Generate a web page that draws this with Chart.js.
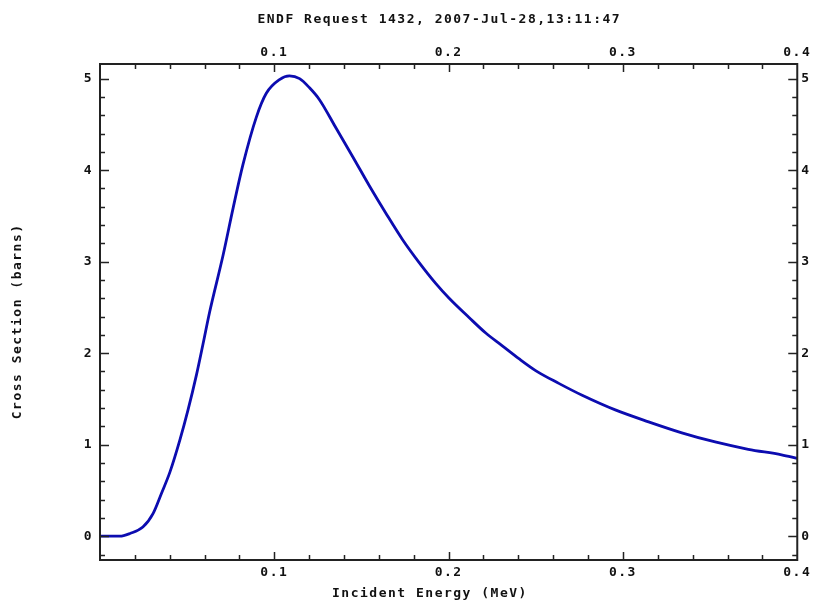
<!DOCTYPE html>
<html>
<head>
<meta charset="utf-8">
<script src="https://cdn.jsdelivr.net/npm/chart.js@4/dist/chart.umd.min.js"></script>
<style>
  html, body { margin: 0; padding: 0; background: #fff; }
</style>
</head>
<body>
<canvas id="xs" width="814" height="601"></canvas>
<script>
// values (MeV, barns)
const energy = [
  0.0, 0.0114, 0.0172, 0.0246, 0.0305, 0.0353, 0.0401, 0.0458, 0.0505, 0.0553,
  0.0591, 0.0629, 0.0706, 0.0763, 0.0820, 0.0897, 0.0954, 0.1030, 0.1087, 0.1145,
  0.1202, 0.1259, 0.1354, 0.1449, 0.1545, 0.1640, 0.1736, 0.1831, 0.1927, 0.2003,
  0.2117, 0.2213, 0.2308, 0.2403, 0.2499, 0.2632, 0.2766, 0.2956, 0.3147, 0.3338,
  0.3529, 0.3719, 0.3910, 0.4000
];
const crossSection = [
  0.0, 0.0, 0.03, 0.10, 0.25, 0.47, 0.70, 1.05, 1.38, 1.76,
  2.10, 2.45, 3.07, 3.58, 4.06, 4.58, 4.84, 4.99, 5.03, 5.00,
  4.90, 4.77, 4.46, 4.15, 3.83, 3.53, 3.24, 2.99, 2.76, 2.60,
  2.39, 2.22, 2.08, 1.94, 1.81, 1.67, 1.54, 1.38, 1.25, 1.13,
  1.03, 0.95, 0.89, 0.85
];
const xTicks = [0.1, 0.2, 0.3, 0.4];
const yTicks = [0, 1, 2, 3, 4, 5];

// trailing spaces nudge the centred titles to where the original has them
const titleText = "ENDF Request 1432, 2007-Jul-28,13:11:47  ";
const xTitle = "Incident Energy (MeV)    ";
const yTitle = "Cross Section (barns)  ";

Chart.defaults.font.family = "'DejaVu Sans Mono', monospace";
Chart.defaults.font.size = 13;
Chart.defaults.font.weight = "bold";
Chart.defaults.color = "#111";

const points = energy.map((e, i) => ({ x: e, y: crossSection[i] }));

const setTicks = (list) => (scale) => {
  scale.ticks = list.map((v) => ({ value: v }));
};

const noGrid = { display: false, drawTicks: false };

// box with inward major/minor ticks like the original plot
const frame = {
  id: "frame",
  beforeDraw(chart) {
    chart.ctx.letterSpacing = "1.5px";
  },
  afterDatasetsDraw(chart) {
    const { ctx, chartArea: a, scales } = chart;
    ctx.save();
    ctx.strokeStyle = "#222";
    ctx.lineWidth = 2;
    ctx.strokeRect(a.left, a.top, a.right - a.left, a.bottom - a.top);
    ctx.lineWidth = 1.5;
    ctx.beginPath();
    for (let i = 1; i < 20; i++) {
      const px = Math.round(scales.x.getPixelForValue(i * 0.02)) + 0.5;
      const len = i % 5 === 0 ? 8 : 5;
      ctx.moveTo(px, a.bottom);
      ctx.lineTo(px, a.bottom - len);
      ctx.moveTo(px, a.top);
      ctx.lineTo(px, a.top + len);
    }
    for (let i = -1; i <= 25; i++) {
      const py = Math.round(scales.y.getPixelForValue(i * 0.2)) + 0.5;
      const len = i % 5 === 0 ? 9 : 5;
      ctx.moveTo(a.left, py);
      ctx.lineTo(a.left + len, py);
      ctx.moveTo(a.right, py);
      ctx.lineTo(a.right - len, py);
    }
    ctx.stroke();
    ctx.restore();
  },
};

const config = {
  type: "line",
  data: {
    datasets: [
      {
        data: points,
        borderColor: "#0c0cb0",
        borderWidth: 2.8,
        pointRadius: 0,
        cubicInterpolationMode: "monotone",
        fill: false,
      },
    ],
  },
  options: {
    responsive: false,
    animation: false,
    layout: { padding: 0 },
    plugins: {
      legend: { display: false },
      tooltip: { enabled: false },
    },
    scales: {
      x: {
        type: "linear",
        position: "bottom",
        min: 0,
        max: 0.4,
        afterBuildTicks: setTicks(xTicks),
        afterFit: (s) => { s.height = 41; },
        grid: noGrid,
        border: { display: false },
        ticks: { padding: 5, maxRotation: 0, callback: (v) => v.toFixed(1) },
        title: { display: true, text: xTitle, padding: { top: 0, bottom: 0 } },
      },
      x2: {
        type: "linear",
        position: "top",
        min: 0,
        max: 0.4,
        afterBuildTicks: setTicks(xTicks),
        afterFit: (s) => { s.height = 64; },
        grid: noGrid,
        border: { display: false },
        ticks: { padding: 4, maxRotation: 0, callback: (v) => v.toFixed(1) },
        title: { display: true, text: titleText, padding: { top: 12, bottom: 0 } },
      },
      y: {
        type: "linear",
        position: "left",
        min: -0.26,
        max: 5.16,
        afterBuildTicks: setTicks(yTicks),
        afterFit: (s) => { s.width = 100; },
        grid: noGrid,
        border: { display: false },
        ticks: { padding: 7, callback: (v) => String(v) },
        title: { display: true, text: yTitle, padding: { top: 10, bottom: 0 } },
      },
      y2: {
        type: "linear",
        position: "right",
        min: -0.26,
        max: 5.16,
        afterBuildTicks: setTicks(yTicks),
        afterFit: (s) => { s.width = 15; },
        grid: noGrid,
        border: { display: false },
        ticks: { padding: 4, callback: (v) => String(v) },
      },
    },
  },
  plugins: [frame],
};

const chart = new Chart(document.getElementById("xs"), config);
</script>
</body>
</html>
